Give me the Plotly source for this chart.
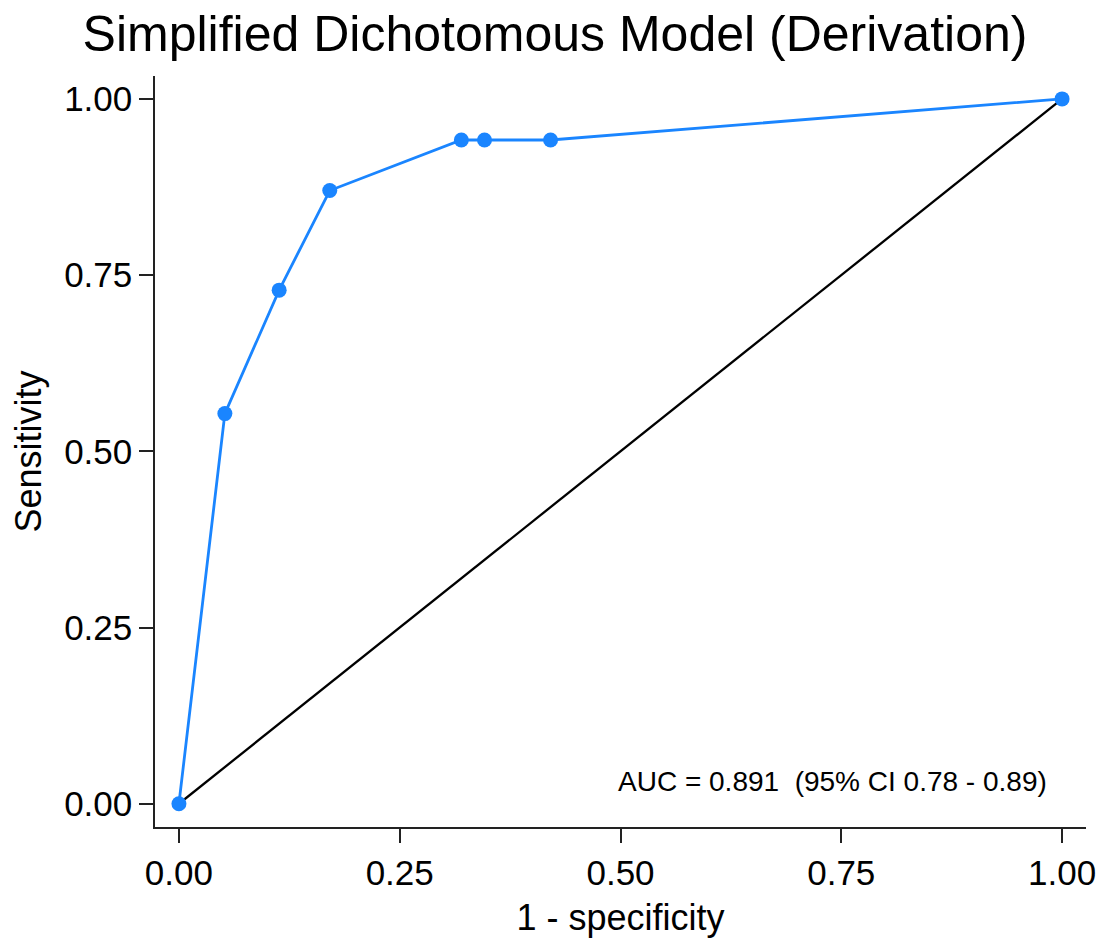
import plotly.graph_objects as go

# ROC points (1 - specificity, sensitivity)
fpr = [0.0, 0.052, 0.1135, 0.1708, 0.3198, 0.346, 0.4208, 1.0]
sens = [0.0, 0.5535, 0.7287, 0.870, 0.9417, 0.9417, 0.9417, 1.0]
ref_x = [0.0, 1.0]
ref_y = [0.0, 1.0]
tick_vals = [0.0, 0.25, 0.5, 0.75, 1.0]
tick_text = ["0.00", "0.25", "0.50", "0.75", "1.00"]

title_text = "Simplified Dichotomous Model (Derivation)"
auc_text = "AUC = 0.891  (95% CI 0.78 - 0.89)"

BLUE = "#1a85ff"
FONT = "Liberation Sans, Arial, Helvetica, sans-serif"

fig = go.Figure()
fig.add_trace(go.Scatter(x=ref_x, y=ref_y, mode="lines",
                         line=dict(color="black", width=2.3), hoverinfo="skip"))
fig.add_trace(go.Scatter(x=fpr, y=sens, mode="lines+markers",
                         line=dict(color=BLUE, width=2.8),
                         marker=dict(color=BLUE, size=15)))

axis_common = dict(
    tickvals=tick_vals, ticktext=tick_text,
    showgrid=False, zeroline=False,
    showline=True, linecolor="#222", linewidth=1.5,
    ticks="outside", ticklen=14, tickwidth=1.5, tickcolor="#222",
    tickfont=dict(size=35, color="black", family=FONT),
)

fig.update_layout(
    width=1110, height=943,
    margin=dict(l=155, r=24, t=76, b=110),
    paper_bgcolor="white", plot_bgcolor="white",
    showlegend=False,
    font=dict(family=FONT, color="black"),
    title=dict(text=title_text, x=0.5, xref="container", xanchor="center",
               y=0.964, yref="container", yanchor="middle",
               font=dict(size=50, color="black", family=FONT)),
    xaxis=dict(range=[-0.0271, 1.0271],
               title=dict(text="1 - specificity", font=dict(size=36), standoff=14),
               **axis_common),
    yaxis=dict(range=[-0.033, 1.0325],
               title=dict(text="Sensitivity", font=dict(size=36), standoff=12),
               **axis_common),
    annotations=[dict(x=0.985, y=0.031, xref="x", yref="y", text=auc_text,
                      showarrow=False, xanchor="right", yanchor="middle",
                      font=dict(size=28, color="black", family=FONT))],
)

fig.write_html("out.html")
